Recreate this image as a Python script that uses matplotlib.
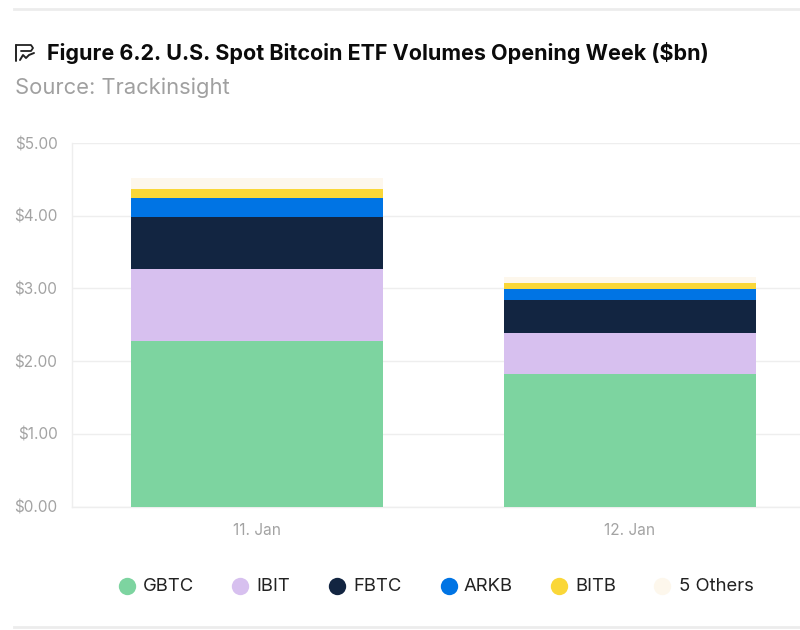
import matplotlib
matplotlib.use("Agg")
import matplotlib.pyplot as plt
from matplotlib.lines import Line2D
import numpy as np

plt.rcParams['font.family'] = ['Inter', 'DejaVu Sans']

categories = ["11. Jan", "12. Jan"]
series_names = ["GBTC", "IBIT", "FBTC", "ARKB", "BITB", "5 Others"]
GBTC = [2.28, 1.82]
IBIT = [0.99, 0.56]
FBTC = [0.71, 0.46]
ARKB = [0.26, 0.15]
BITB = [0.13, 0.09]
OTHERS = [0.15, 0.07]
series_values = [GBTC, IBIT, FBTC, ARKB, BITB, OTHERS]
colors = ["#7dd4a0", "#d7c0ef", "#122541", "#0074e4", "#fad738", "#fdf7ec"]
y_ticks = [0, 1, 2, 3, 4, 5]

W, H = 800, 630
fig = plt.figure(figsize=(W / 100, H / 100), dpi=100, facecolor="white")
ax = fig.add_axes([72 / W, 1 - 506.5 / H, (W - 72) / W, 363.5 / H])

x = np.arange(len(categories))
bottom = np.zeros(len(categories))
for name, vals, c in zip(series_names, series_values, colors):
    ax.bar(x, vals, width=0.678, bottom=bottom, color=c, label=name, zorder=3)
    bottom += np.array(vals)

ax.set_xlim(-0.496, 1.456)
ax.set_ylim(0, 5)
ax.set_yticks(y_ticks)
ax.set_yticklabels([f"${v:.2f}" for v in y_ticks], fontsize=11, color="#a3a3a3")
ax.set_xticks(x)
ax.set_xticklabels(categories, fontsize=11.1, color="#a3a3a3")
ax.tick_params(axis="both", length=0)
ax.tick_params(axis="x", pad=12)
ax.tick_params(axis="y", pad=10.5)
ax.grid(axis="y", color="#eeeeee", lw=1.0, zorder=0)
ax.set_axisbelow(True)
for s in ["top", "right"]:
    ax.spines[s].set_visible(False)
for s in ["left", "bottom"]:
    ax.spines[s].set_color("#eeeeee")
    ax.spines[s].set_linewidth(1.0)

# Title and source
fig.text(47 / W, 1 - 53 / H, "Figure 6.2. U.S. Spot Bitcoin ETF Volumes Opening Week ($bn)",
         fontsize=15.5, fontweight="bold", color="#0b0b0b", va="center", ha="left")
fig.text(15 / W, 1 - 87.5 / H, "Source: Trackinsight", fontsize=15.8, color="#a0a0a0",
         va="center", ha="left")

# Horizontal rules
for yy, lw in [(9, 2.0), (627, 2.0)]:
    fig.add_artist(Line2D([14 / W, 1], [1 - yy / H] * 2, color="#ececec", lw=lw))

# Title icon
def icon(xs, ys, lw=1.4):
    fig.add_artist(Line2D([v / W for v in xs], [1 - v / H for v in ys],
                          color="#222222", lw=lw, solid_capstyle="round"))
icon([16, 16], [45, 61])
icon([16, 31, 33, 31, 21], [45, 45, 48, 51, 51], 1.3)
icon([20, 23, 26, 29, 34], [60, 55, 58, 55, 53], 1.4)

# Legend
legend_x = [127, 240, 337, 449, 559, 662]
text_x = [143, 256, 353, 464, 575, 679]
legend_y = 585.5
for name, c, lx, tx in zip(series_names, colors, legend_x, text_x):
    fig.add_artist(Line2D([lx / W], [1 - legend_y / H], marker="o", markersize=12.5,
                          color=c, markeredgewidth=0, linestyle="none"))
    fig.text(tx / W, 1 - (legend_y + 0.8) / H, name, fontsize=13.3, color="#222222",
             va="center", ha="left")

fig.savefig("out.png", dpi=100, facecolor="white")
